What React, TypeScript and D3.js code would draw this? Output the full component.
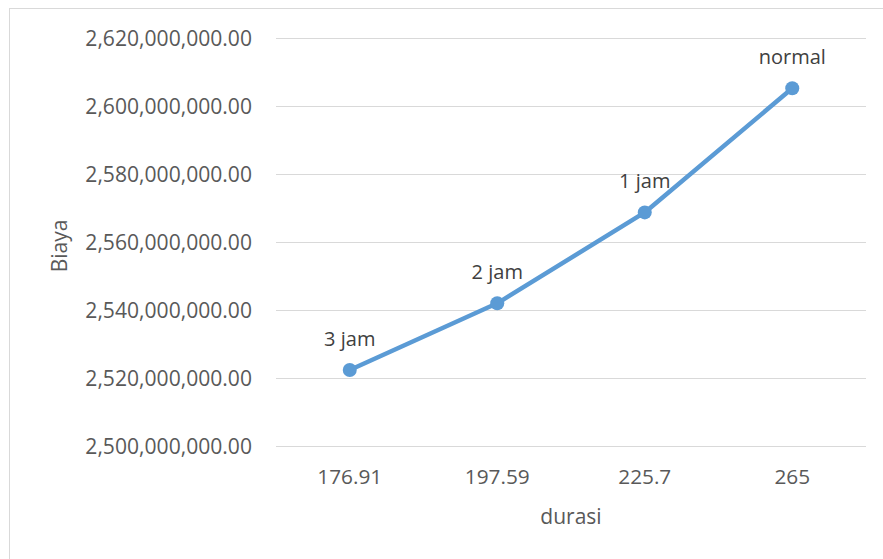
import React from "react";
import * as d3 from "d3";

const categories: string[] = ["176.91", "197.59", "225.7", "265"];
const costs: number[] = [2522350000, 2541970000, 2568700000, 2605200000];
const pointLabels: string[] = ["3 jam", "2 jam", "1 jam", "normal"];
const yTicks: number[] = [2500000000, 2520000000, 2540000000, 2560000000, 2580000000, 2600000000, 2620000000];
const xTitle = "durasi";
const yTitle = "Biaya";

const W = 883;
const H = 559;
const FONT = "'Open Sans', 'Noto Sans', sans-serif";
const TEXT = "#595959";
const GRID = "#d9d9d9";
const LINE = "#5B9BD5";

export default function App() {
  const left = 276;
  const right = 866;
  const top = 38;
  const bottom = 446;

  const x = d3.scaleBand<string>().domain(categories).range([left, right]);
  const y = d3.scaleLinear().domain([2500000000, 2620000000]).range([bottom, top]);
  const fmt = d3.format(",.2f");

  const pts = categories.map((c, i) => [x(c)! + x.bandwidth() / 2, y(costs[i])] as [number, number]);
  const line = d3.line<[number, number]>()(pts) || "";

  return (
    <svg width={W} height={H} style={{ position: "absolute", left: 0, top: 0, background: "#fff" }}>
      <rect x={0} y={0} width={W} height={H} fill="#fff" />
      <rect x={9.5} y={8.5} width={W + 20} height={H + 20} fill="none" stroke={GRID} strokeWidth={1} />
      {yTicks.map((t) => (
        <g key={t}>
          <line x1={left} x2={right} y1={Math.round(y(t)) + 0.5} y2={Math.round(y(t)) + 0.5} stroke={GRID} strokeWidth={1.2} />
          <text x={252} y={y(t) + 7.5} textAnchor="end" fontFamily={FONT} fontSize={21.1} fill={TEXT}>
            {fmt(t)}
          </text>
        </g>
      ))}
      {categories.map((c) => (
        <text key={c} x={x(c)! + x.bandwidth() / 2} y={484} textAnchor="middle" fontFamily={FONT} fontSize={20.8} fill={TEXT}>
          {c}
        </text>
      ))}
      <path d={line} fill="none" stroke={LINE} strokeWidth={4.5} strokeLinejoin="round" strokeLinecap="round" />
      {pts.map((p, i) => (
        <g key={i}>
          <circle cx={p[0]} cy={p[1]} r={7} fill={LINE} />
          <text x={p[0]} y={p[1] - 24.5} textAnchor="middle" fontFamily={FONT} fontSize={20} fill="#404040">
            {pointLabels[i]}
          </text>
        </g>
      ))}
      <text x={(left + right) / 2} y={524} textAnchor="middle" fontFamily={FONT} fontSize={21} fill={TEXT}>
        {xTitle}
      </text>
      <text
        transform={`translate(67, ${(top + bottom) / 2 + 4}) rotate(-90)`}
        textAnchor="middle"
        fontFamily={FONT}
        fontSize={21}
        fill={TEXT}
      >
        {yTitle}
      </text>
    </svg>
  );
}
